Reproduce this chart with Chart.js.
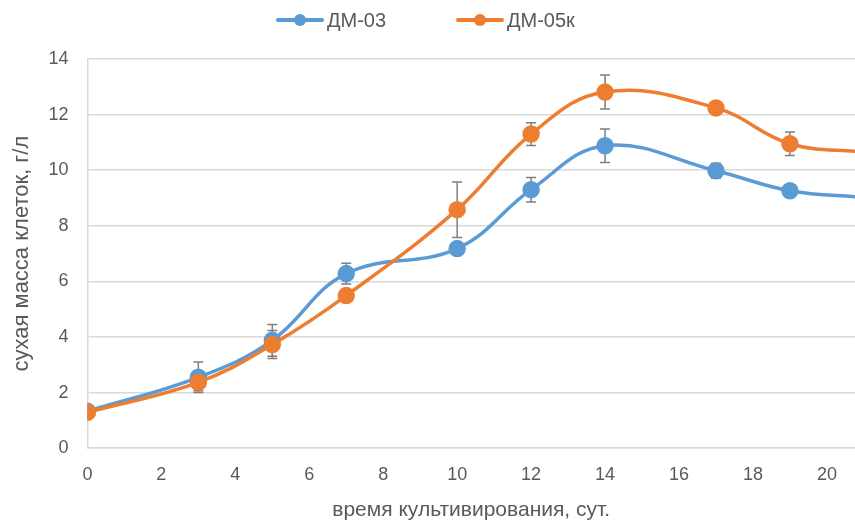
<!DOCTYPE html>
<html><head><meta charset="utf-8">
<script src="https://cdn.jsdelivr.net/npm/chart.js@4"></script>
<style>html,body{margin:0;padding:0;background:#fff}#w{width:855px;height:520px}</style>
</head><body><div id="w"><canvas id="c"></canvas></div>
<script>
const days = [0, 3, 5, 7, 10, 12, 14, 17, 19, 21];
const dm03 = [1.33, 2.55, 3.88, 6.28, 7.18, 9.30, 10.88, 9.98, 9.26, 9.02];
const dm05k = [1.29, 2.37, 3.73, 5.49, 8.58, 11.30, 12.81, 12.24, 10.95, 10.65];
const dm03Err = [null, 0.55, 0.57, 0.37, null, 0.44, 0.60, 0.27, null, null];
const dm05kErr = [null, 0.30, 0.50, 0.22, 1.00, 0.41, 0.61, 0.21, 0.42, null];
const seriesNames = ['ДМ-03', 'ДМ-05к'];
const yTicks = [0, 2, 4, 6, 8, 10, 12, 14];
const xTicks = [0, 2, 4, 6, 8, 10, 12, 14, 16, 18, 20];

const BLUE = '#5b9bd5', ORANGE = '#ed7d31', TXT = '#595959', GRID = '#d9d9d9';
const FONT = "'Liberation Sans', Arial, sans-serif";

const legendPlugin = {
  id: 'customLegend',
  afterDraw(chart) {
    const ctx = chart.ctx;
    const items = [{x: 278, ds: chart.data.datasets[0]}, {x: 458, ds: chart.data.datasets[1]}];
    const y = 20;
    ctx.save();
    ctx.font = "20px " + FONT;
    ctx.textBaseline = 'middle';
    ctx.textAlign = 'left';
    items.forEach(it => {
      const c = it.ds.borderColor;
      ctx.strokeStyle = c; ctx.lineWidth = 4; ctx.lineCap = 'round';
      ctx.beginPath(); ctx.moveTo(it.x, y); ctx.lineTo(it.x + 44, y); ctx.stroke();
      ctx.fillStyle = c; ctx.beginPath(); ctx.arc(it.x + 22, y, 6, 0, Math.PI * 2); ctx.fill();
      ctx.fillStyle = TXT;
      ctx.fillText(it.ds.label, it.x + 49, y + 1);
    });
    ctx.restore();
  }
};

const errorBars = {
  id: 'errorBars',
  beforeDatasetsDraw(chart) {
    const ctx = chart.ctx, xs = chart.scales.x, ys = chart.scales.y;
    ctx.save();
    ctx.strokeStyle = '#7f7f7f'; ctx.lineWidth = 1.5;
    chart.data.datasets.forEach(ds => {
      ds.err.forEach((e, i) => {
        if (e == null) return;
        const x = xs.getPixelForValue(ds.data[i].x);
        const y1 = ys.getPixelForValue(ds.data[i].y + e);
        const y2 = ys.getPixelForValue(ds.data[i].y - e);
        ctx.beginPath();
        ctx.moveTo(x, y1); ctx.lineTo(x, y2);
        ctx.moveTo(x - 5, y1); ctx.lineTo(x + 5, y1);
        ctx.moveTo(x - 5, y2); ctx.lineTo(x + 5, y2);
        ctx.stroke();
      });
    });
    ctx.restore();
  }
};

const mk = (vals) => days.map((d, i) => ({x: d, y: vals[i]}));

new Chart(document.getElementById('c'), {
  type: 'line',
  data: {
    datasets: [
      {label: seriesNames[0], data: mk(dm03), err: dm03Err, borderColor: BLUE, backgroundColor: BLUE,
       pointBackgroundColor: BLUE, pointBorderColor: BLUE, borderWidth: 3.5, pointRadius: 7, tension: 0.4, order: 1},
      {label: seriesNames[1], data: mk(dm05k), err: dm05kErr, borderColor: ORANGE, backgroundColor: ORANGE,
       pointBackgroundColor: ORANGE, pointBorderColor: ORANGE, borderWidth: 3.5, pointRadius: 7, tension: 0.4, order: 0}
    ]
  },
  options: {
    responsive: true, maintainAspectRatio: false, animation: false,
    layout: {autoPadding: false, padding: {left: 6, right: 0, top: 59, bottom: -3}},
    plugins: {
      tooltip: {enabled: false},
      legend: {display: false}
    },
    scales: {
      x: {
        type: 'linear', min: 0, max: 20.76,
        afterBuildTicks(s) { s.ticks = xTicks.map(v => ({value: v})); },
        ticks: {color: TXT, font: {family: FONT, size: 18}, padding: 16, maxRotation: 0},
        grid: {display: false, drawTicks: false},
        border: {display: true, color: GRID, width: 1.5},
        title: {display: true, text: 'время культивирования, сут.', color: TXT, font: {family: FONT, size: 21}, padding: {top: -4, bottom: 0}}
      },
      y: {
        min: 0, max: 14,
        afterBuildTicks(s) { s.ticks = yTicks.map(v => ({value: v})); },
        ticks: {color: TXT, font: {family: FONT, size: 18}, padding: 19},
        grid: {color: GRID, lineWidth: 1.5, drawTicks: false},
        border: {display: true, color: GRID, width: 1.5},
        title: {display: true, text: 'сухая масса клеток, г/л', color: TXT, font: {family: FONT, size: 22}, padding: {top: 3, bottom: -6}}
      }
    }
  },
  plugins: [errorBars, legendPlugin]
});
</script>
</body></html>
